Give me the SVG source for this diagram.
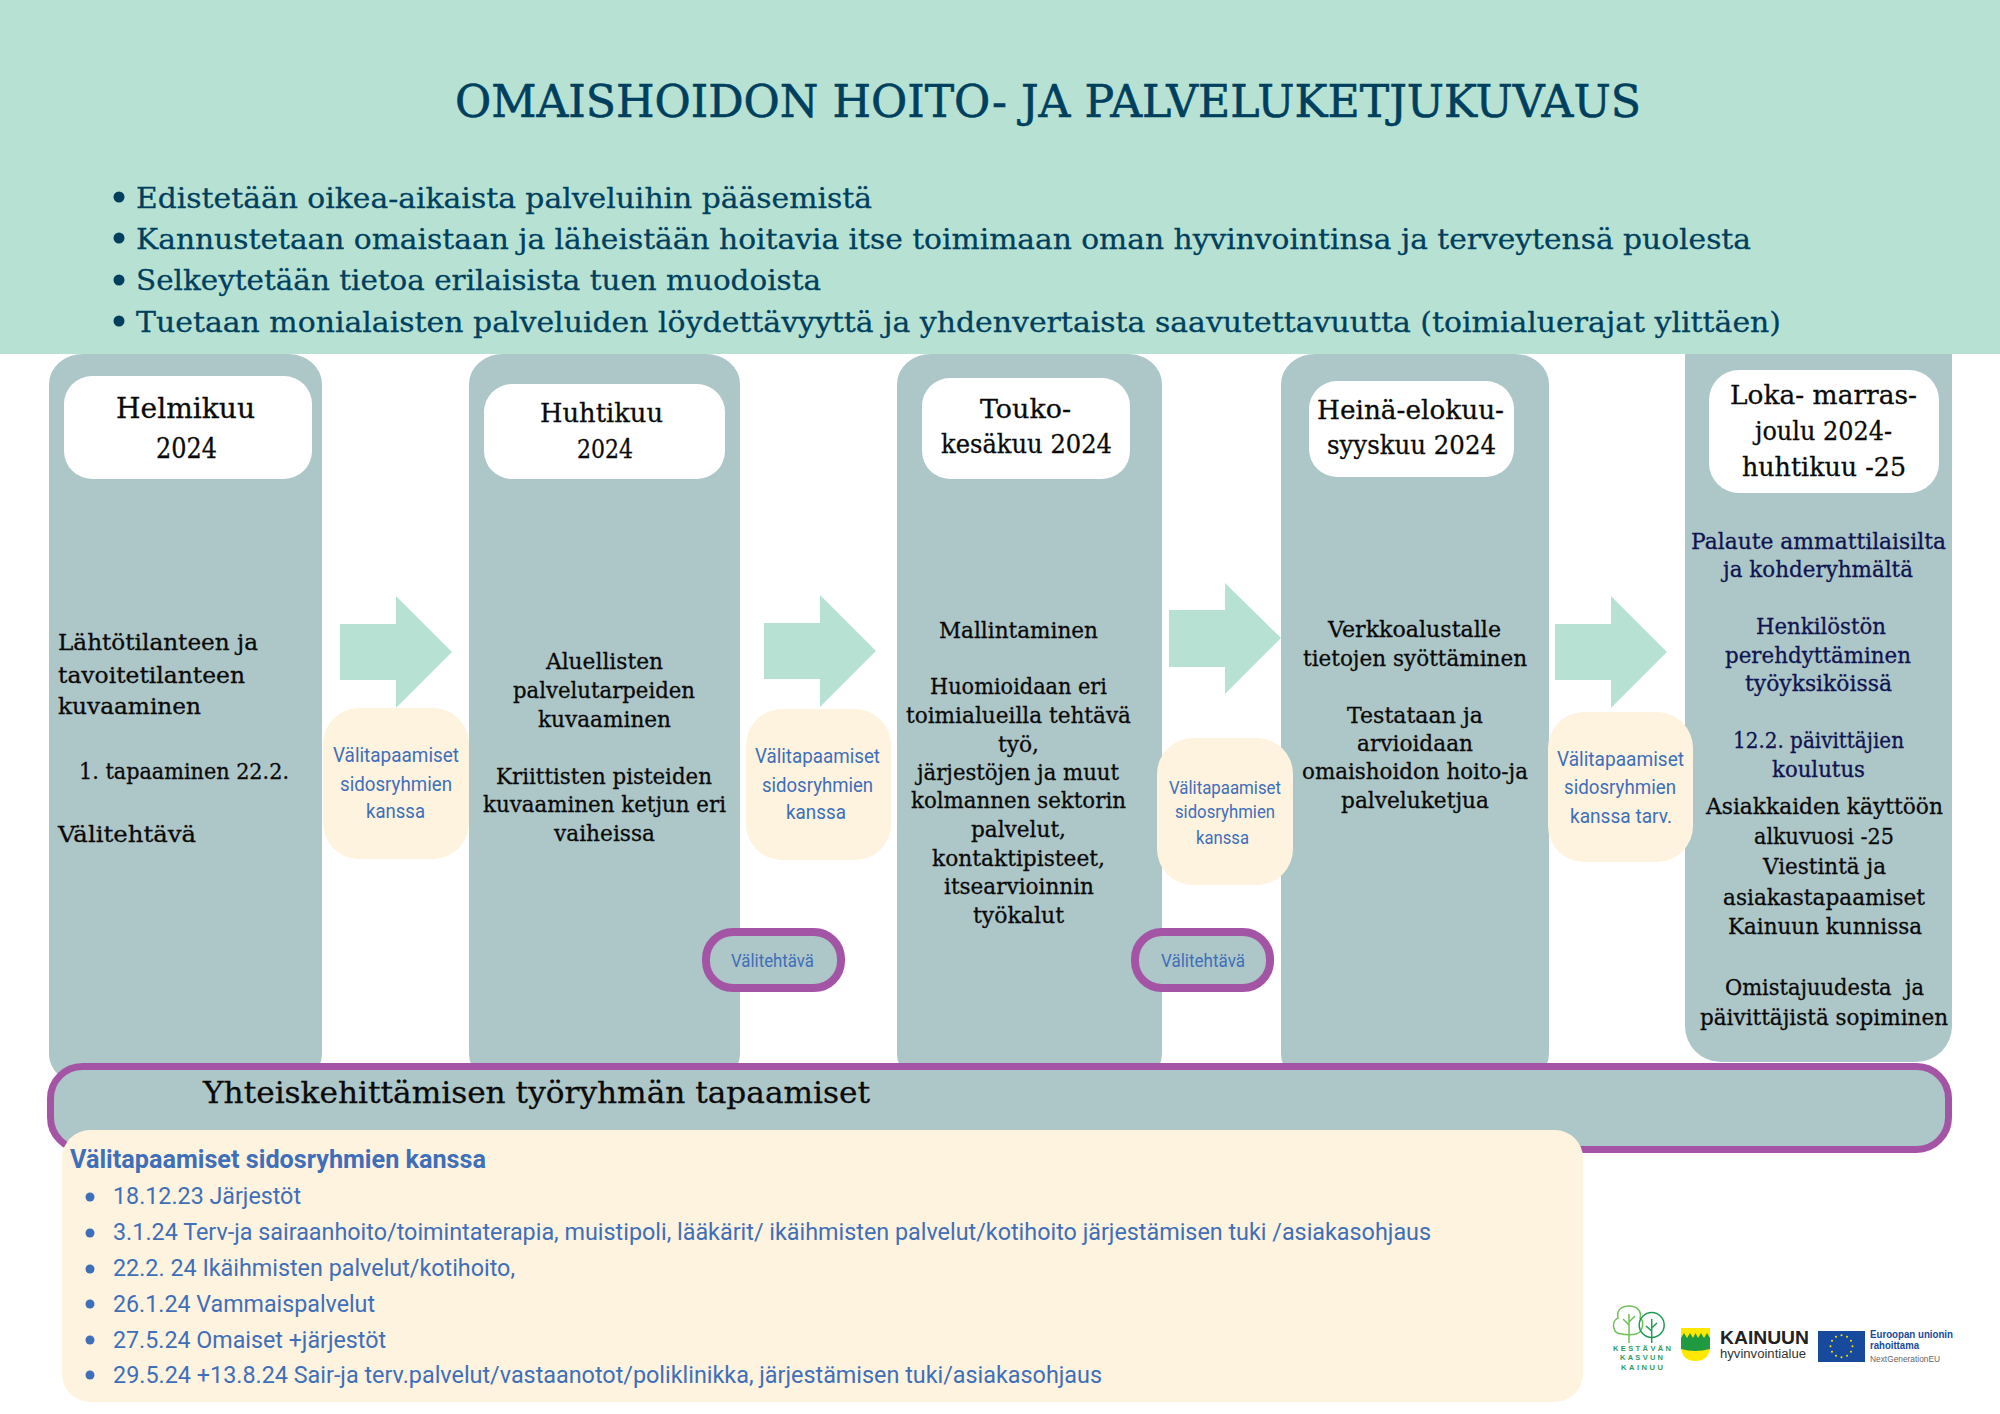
<svg xmlns="http://www.w3.org/2000/svg" width="2000" height="1414" viewBox="0 0 2000 1414">
<style>
.s{font-family:"DejaVu Serif","Liberation Serif",serif;fill:#0a0a0a;stroke:#0a0a0a;stroke-width:.3px;transform:translateY(1px)}
.c{font-size:22px}
.h{font-size:26px}
.n{fill:#0e1450;stroke:#0e1450}
.b{fill:#003f5e;stroke:#003f5e;font-size:28px}
.t{fill:#003f5e;stroke:#003f5e;font-size:45px;stroke-width:.6px}
.r{font-family:Roboto,"Liberation Sans",sans-serif;fill:#3e6fb8;transform:translateY(1px)}
.col{fill:#adc6c8}
.wh{fill:#fff}
.cr{fill:#fef3df}
.ar{fill:#b7e2d3}
.pill{fill:#adc6c8;stroke:#a354a5;stroke-width:8}
.sm{font-size:20px}
.li{font-size:24px}
.lg{font-family:"Liberation Sans",sans-serif}
</style>
<rect width="2000" height="1414" fill="#fff"/>
<g id="column-5"><rect class="col" x="1685" y="300" width="267" height="762" rx="36" ry="36"/></g>
<g id="header-band">
<rect x="0" y="0" width="2000" height="354" fill="#b7e2d3"/>
<text class="s t" x="455" y="116" textLength="1186" lengthAdjust="spacingAndGlyphs">OMAISHOIDON HOITO- JA PALVELUKETJUKUVAUS</text>
<circle cx="119" cy="197" r="5.5" fill="#003f5e"/><circle cx="119" cy="238" r="5.5" fill="#003f5e"/><circle cx="119" cy="280" r="5.5" fill="#003f5e"/><circle cx="119" cy="321" r="5.5" fill="#003f5e"/>
<text class="s b" x="136" y="207" textLength="736" lengthAdjust="spacingAndGlyphs">Edistetään oikea-aikaista palveluihin pääsemistä</text>
<text class="s b" x="136" y="248" textLength="1615" lengthAdjust="spacingAndGlyphs">Kannustetaan omaistaan ja läheistään hoitavia itse toimimaan oman hyvinvointinsa ja terveytensä puolesta</text>
<text class="s b" x="136" y="289" textLength="685" lengthAdjust="spacingAndGlyphs">Selkeytetään tietoa erilaisista tuen muodoista</text>
<text class="s b" x="136" y="331" textLength="1645" lengthAdjust="spacingAndGlyphs">Tuetaan monialaisten palveluiden löydettävyyttä ja yhdenvertaista saavutettavuutta (toimialuerajat ylittäen)</text>
</g>
<g id="column-1">
<rect class="col" x="49" y="354" width="273" height="730" rx="34" ry="30"/>
<rect class="wh" x="64" y="376" width="248" height="103" rx="28"/>
<text class="s h" style="font-size:27px" x="116" y="417" textLength="139" lengthAdjust="spacingAndGlyphs">Helmikuu</text>
<text class="s h" style="font-size:27px" x="156" y="457" textLength="61" lengthAdjust="spacingAndGlyphs">2024</text>
<text class="s c" x="58" y="649" textLength="200" lengthAdjust="spacingAndGlyphs">Lähtötilanteen ja</text>
<text class="s c" x="58" y="682" textLength="187" lengthAdjust="spacingAndGlyphs">tavoitetilanteen</text>
<text class="s c" x="58" y="713" textLength="143" lengthAdjust="spacingAndGlyphs">kuvaaminen</text>
<text class="s c" x="79" y="778" textLength="210" lengthAdjust="spacingAndGlyphs">1. tapaaminen 22.2.</text>
<text class="s c" x="58" y="841" textLength="138" lengthAdjust="spacingAndGlyphs">Välitehtävä</text>
</g>
<g id="column-2">
<rect class="col" x="469" y="354" width="271" height="730" rx="34" ry="30"/>
<rect class="wh" x="484" y="384" width="241" height="95" rx="28"/>
<text class="s h" x="540" y="421" textLength="123" lengthAdjust="spacingAndGlyphs">Huhtikuu</text>
<text class="s h" x="577" y="457" textLength="56" lengthAdjust="spacingAndGlyphs">2024</text>
<text class="s c" x="546" y="668" textLength="117" lengthAdjust="spacingAndGlyphs">Aluellisten</text>
<text class="s c" x="513" y="697" textLength="182" lengthAdjust="spacingAndGlyphs">palvelutarpeiden</text>
<text class="s c" x="538" y="726" textLength="133" lengthAdjust="spacingAndGlyphs">kuvaaminen</text>
<text class="s c" x="496" y="783" textLength="216" lengthAdjust="spacingAndGlyphs">Kriittisten pisteiden</text>
<text class="s c" x="483" y="811" textLength="243" lengthAdjust="spacingAndGlyphs">kuvaaminen ketjun eri</text>
<text class="s c" x="554" y="840" textLength="101" lengthAdjust="spacingAndGlyphs">vaiheissa</text>
</g>
<g id="column-3">
<rect class="col" x="897" y="354" width="265" height="730" rx="34" ry="30"/>
<rect class="wh" x="922" y="378" width="208" height="101" rx="28"/>
<text class="s h" x="980" y="417" textLength="91" lengthAdjust="spacingAndGlyphs">Touko-</text>
<text class="s h" x="941" y="452" textLength="171" lengthAdjust="spacingAndGlyphs">kesäkuu 2024</text>
<text class="s c" x="939" y="637" textLength="159" lengthAdjust="spacingAndGlyphs">Mallintaminen</text>
<text class="s c" x="930" y="693" textLength="177" lengthAdjust="spacingAndGlyphs">Huomioidaan eri</text>
<text class="s c" x="906" y="722" textLength="225" lengthAdjust="spacingAndGlyphs">toimialueilla tehtävä</text>
<text class="s c" x="998" y="751" textLength="41" lengthAdjust="spacingAndGlyphs">työ,</text>
<text class="s c" x="917" y="779" textLength="202" lengthAdjust="spacingAndGlyphs">järjestöjen ja muut</text>
<text class="s c" x="911" y="807" textLength="215" lengthAdjust="spacingAndGlyphs">kolmannen sektorin</text>
<text class="s c" x="971" y="836" textLength="95" lengthAdjust="spacingAndGlyphs">palvelut,</text>
<text class="s c" x="932" y="865" textLength="173" lengthAdjust="spacingAndGlyphs">kontaktipisteet,</text>
<text class="s c" x="944" y="893" textLength="150" lengthAdjust="spacingAndGlyphs">itsearvioinnin</text>
<text class="s c" x="973" y="922" textLength="91" lengthAdjust="spacingAndGlyphs">työkalut</text>
</g>
<g id="column-4">
<rect class="col" x="1281" y="354" width="268" height="730" rx="34" ry="30"/>
<rect class="wh" x="1309" y="381" width="205" height="96" rx="28"/>
<text class="s h" x="1317" y="418" textLength="187" lengthAdjust="spacingAndGlyphs">Heinä-elokuu-</text>
<text class="s h" x="1327" y="453" textLength="169" lengthAdjust="spacingAndGlyphs">syyskuu 2024</text>
<text class="s c" x="1328" y="636" textLength="173" lengthAdjust="spacingAndGlyphs">Verkkoalustalle</text>
<text class="s c" x="1303" y="665" textLength="224" lengthAdjust="spacingAndGlyphs">tietojen syöttäminen</text>
<text class="s c" x="1347" y="722" textLength="136" lengthAdjust="spacingAndGlyphs">Testataan ja</text>
<text class="s c" x="1357" y="750" textLength="116" lengthAdjust="spacingAndGlyphs">arvioidaan</text>
<text class="s c" x="1302" y="778" textLength="226" lengthAdjust="spacingAndGlyphs">omaishoidon hoito-ja</text>
<text class="s c" x="1341" y="807" textLength="148" lengthAdjust="spacingAndGlyphs">palveluketjua</text>
</g>
<g id="column-5-content">
<rect class="wh" x="1709" y="370" width="230" height="123" rx="30"/>
<text class="s h" x="1730" y="403" textLength="187" lengthAdjust="spacingAndGlyphs">Loka- marras-</text>
<text class="s h" x="1755" y="439" textLength="137" lengthAdjust="spacingAndGlyphs">joulu 2024-</text>
<text class="s h" x="1742" y="475" textLength="164" lengthAdjust="spacingAndGlyphs">huhtikuu -25</text>
<text class="s c n" x="1691" y="548" textLength="255" lengthAdjust="spacingAndGlyphs">Palaute ammattilaisilta</text>
<text class="s c n" x="1723" y="576" textLength="190" lengthAdjust="spacingAndGlyphs">ja kohderyhmältä</text>
<text class="s c n" x="1756" y="633" textLength="130" lengthAdjust="spacingAndGlyphs">Henkilöstön</text>
<text class="s c n" x="1725" y="662" textLength="186" lengthAdjust="spacingAndGlyphs">perehdyttäminen</text>
<text class="s c n" x="1745" y="690" textLength="147" lengthAdjust="spacingAndGlyphs">työyksiköissä</text>
<text class="s c n" x="1733" y="747" textLength="171" lengthAdjust="spacingAndGlyphs">12.2. päivittäjien</text>
<text class="s c n" x="1772" y="776" textLength="93" lengthAdjust="spacingAndGlyphs">koulutus</text>
<text class="s c" x="1706" y="813" textLength="237" lengthAdjust="spacingAndGlyphs">Asiakkaiden käyttöön</text>
<text class="s c" x="1754" y="843" textLength="140" lengthAdjust="spacingAndGlyphs">alkuvuosi -25</text>
<text class="s c" x="1763" y="873" textLength="123" lengthAdjust="spacingAndGlyphs">Viestintä ja</text>
<text class="s c" x="1723" y="904" textLength="202" lengthAdjust="spacingAndGlyphs">asiakastapaamiset</text>
<text class="s c" x="1728" y="933" textLength="194" lengthAdjust="spacingAndGlyphs">Kainuun kunnissa</text>
<text class="s c" x="1725" y="994" textLength="199" lengthAdjust="spacingAndGlyphs" xml:space="preserve">Omistajuudesta  ja</text>
<text class="s c" x="1700" y="1024" textLength="248" lengthAdjust="spacingAndGlyphs">päivittäjistä sopiminen</text>
</g>
<g id="connectors">
<path class="ar" d="M340 624H396V596L452 652L396 708V680H340Z"/>
<path class="ar" d="M764 623H820V595L876 651L820 707V679H764Z"/>
<path class="ar" d="M1169 610H1225V583L1281 638L1225 694V667H1169Z"/>
<path class="ar" d="M1555 624H1611V596L1667 652L1611 708V680H1555Z"/>
</g>
<g id="meeting-1">
<rect class="cr" x="323" y="708" width="146" height="151" rx="36"/>
<text class="r sm" x="333" y="761" textLength="126" lengthAdjust="spacingAndGlyphs">Välitapaamiset</text>
<text class="r sm" x="340" y="790" textLength="112" lengthAdjust="spacingAndGlyphs">sidosryhmien</text>
<text class="r sm" x="366" y="817" textLength="59" lengthAdjust="spacingAndGlyphs">kanssa</text>
</g>
<g id="meeting-2">
<rect class="cr" x="746" y="709" width="145" height="151" rx="36"/>
<text class="r sm" x="755" y="762" textLength="125" lengthAdjust="spacingAndGlyphs">Välitapaamiset</text>
<text class="r sm" x="762" y="791" textLength="111" lengthAdjust="spacingAndGlyphs">sidosryhmien</text>
<text class="r sm" x="786" y="818" textLength="60" lengthAdjust="spacingAndGlyphs">kanssa</text>
</g>
<g id="meeting-3">
<rect class="cr" x="1157" y="738" width="136" height="147" rx="36"/>
<text class="r" font-size="18" x="1169" y="793" textLength="112" lengthAdjust="spacingAndGlyphs">Välitapaamiset</text>
<text class="r" font-size="18" x="1175" y="817" textLength="100" lengthAdjust="spacingAndGlyphs">sidosryhmien</text>
<text class="r" font-size="18" x="1196" y="843" textLength="53" lengthAdjust="spacingAndGlyphs">kanssa</text>
</g>
<g id="meeting-4">
<rect class="cr" x="1548" y="712" width="145" height="150" rx="36"/>
<text class="r sm" x="1557" y="765" textLength="127" lengthAdjust="spacingAndGlyphs">Välitapaamiset</text>
<text class="r sm" x="1564" y="793" textLength="112" lengthAdjust="spacingAndGlyphs">sidosryhmien</text>
<text class="r sm" x="1570" y="822" textLength="102" lengthAdjust="spacingAndGlyphs">kanssa tarv.</text>
</g>
<g id="task-1">
<rect class="pill" x="706" y="932" width="135" height="56" rx="27"/>
<text class="r" font-size="18" x="731" y="966" textLength="83" lengthAdjust="spacingAndGlyphs">Välitehtävä</text>
</g>
<g id="task-2">
<rect class="pill" x="1135" y="932" width="135" height="56" rx="27"/>
<text class="r" font-size="18" x="1161" y="966" textLength="84" lengthAdjust="spacingAndGlyphs">Välitehtävä</text>
</g>
<g id="working-group">
<rect x="50.500" y="1066.500" width="1898" height="83" rx="32" fill="#adc6c8" stroke="#a354a5" stroke-width="7"/>
<text class="s" font-size="30" x="203" y="1102" textLength="667" lengthAdjust="spacingAndGlyphs">Yhteiskehittämisen työryhmän tapaamiset</text>
</g>
<g id="meeting-list">
<rect class="cr" x="62" y="1130" width="1521" height="272" rx="28"/>
<text class="r" font-size="26" font-weight="700" x="70" y="1167" textLength="416" lengthAdjust="spacingAndGlyphs">Välitapaamiset sidosryhmien kanssa</text>
<g fill="#3e6fb8"><circle cx="90" cy="1197" r="4.500"/><circle cx="90" cy="1233" r="4.500"/><circle cx="90" cy="1269" r="4.500"/><circle cx="90" cy="1304" r="4.500"/><circle cx="90" cy="1340" r="4.500"/><circle cx="90" cy="1375" r="4.500"/></g>
<text class="r li" x="113" y="1203" textLength="188" lengthAdjust="spacingAndGlyphs">18.12.23 Järjestöt</text>
<text class="r li" x="113" y="1239" textLength="1318" lengthAdjust="spacingAndGlyphs">3.1.24 Terv-ja sairaanhoito/toimintaterapia, muistipoli, lääkärit/ ikäihmisten palvelut/kotihoito järjestämisen tuki /asiakasohjaus</text>
<text class="r li" x="113" y="1275" textLength="402" lengthAdjust="spacingAndGlyphs">22.2. 24 Ikäihmisten palvelut/kotihoito,</text>
<text class="r li" x="113" y="1311" textLength="262" lengthAdjust="spacingAndGlyphs">26.1.24 Vammaispalvelut</text>
<text class="r li" x="113" y="1347" textLength="273" lengthAdjust="spacingAndGlyphs">27.5.24 Omaiset +järjestöt</text>
<text class="r li" x="113" y="1382" textLength="989" lengthAdjust="spacingAndGlyphs">29.5.24 +13.8.24 Sair-ja terv.palvelut/vastaanotot/poliklinikka, järjestämisen tuki/asiakasohjaus</text>
</g>
<g id="logo-kestava">
<path d="M1629 1343V1334M1622 1334C1612 1334 1611 1321 1618 1318C1616 1310 1622 1306 1629 1306C1637 1306 1642 1311 1640 1318C1644 1320 1644 1332 1636 1334C1633 1335 1625 1335 1622 1334Z" fill="none" stroke="#6fc05a" stroke-width="1.500"/>
<path d="M1629 1314V1334M1629 1325L1623 1319M1629 1322L1635 1316" fill="none" stroke="#6fc05a" stroke-width="1.500"/>
<circle cx="1651.700" cy="1325" r="12.500" fill="none" stroke="#1f9a54" stroke-width="1.500"/>
<path d="M1651.700 1319V1343M1651.700 1331L1646 1326M1651.700 1328L1657 1323" fill="none" stroke="#1f9a54" stroke-width="1.500"/>
<g class="lg" font-size="7.500" font-weight="700" fill="#2f9c68">
<text x="1613" y="1351" textLength="58" lengthAdjust="spacing">KESTÄVÄN</text>
<text x="1620" y="1360" textLength="43" lengthAdjust="spacing">KASVUN</text>
<text x="1621" y="1370" textLength="42" lengthAdjust="spacing">KAINUU</text>
</g>
</g>
<g id="logo-kainuun">
<path d="M1681 1328H1710V1345Q1710 1361 1695.500 1361Q1681 1361 1681 1345Z" fill="#ffe800"/>
<path d="M1681 1349V1338L1684 1333L1687 1338L1690 1333L1693 1338L1695.500 1333L1698 1338L1701 1333L1704 1338L1707 1333L1710 1338V1349Q1695 1353 1681 1349Z" fill="#1f9a40"/>
<text class="lg" x="1720" y="1344" font-size="18" font-weight="700" fill="#222" textLength="89" lengthAdjust="spacingAndGlyphs">KAINUUN</text>
<text class="lg" x="1720" y="1358" font-size="12" fill="#333" textLength="86" lengthAdjust="spacingAndGlyphs">hyvinvointialue</text>
</g>
<g id="logo-eu">
<rect x="1818" y="1331" width="47" height="31" fill="#174a9c"/>
<g fill="#ffe800"><circle cx="1841.500" cy="1335.300" r="1"/><circle cx="1847" cy="1336.800" r="1"/><circle cx="1851" cy="1340.800" r="1"/><circle cx="1852.500" cy="1346.300" r="1"/><circle cx="1851" cy="1351.800" r="1"/><circle cx="1847" cy="1355.800" r="1"/><circle cx="1841.500" cy="1357.300" r="1"/><circle cx="1836" cy="1355.800" r="1"/><circle cx="1832" cy="1351.800" r="1"/><circle cx="1830.500" cy="1346.300" r="1"/><circle cx="1832" cy="1340.800" r="1"/><circle cx="1836" cy="1336.800" r="1"/></g>
<text class="lg" x="1870" y="1338" font-size="10" font-weight="700" fill="#174a9c" textLength="83" lengthAdjust="spacingAndGlyphs">Euroopan unionin</text>
<text class="lg" x="1870" y="1349" font-size="10" font-weight="700" fill="#174a9c" textLength="49" lengthAdjust="spacingAndGlyphs">rahoittama</text>
<text class="lg" x="1870" y="1362" font-size="9" fill="#666" textLength="70" lengthAdjust="spacingAndGlyphs">NextGenerationEU</text>
</g>
</svg>
